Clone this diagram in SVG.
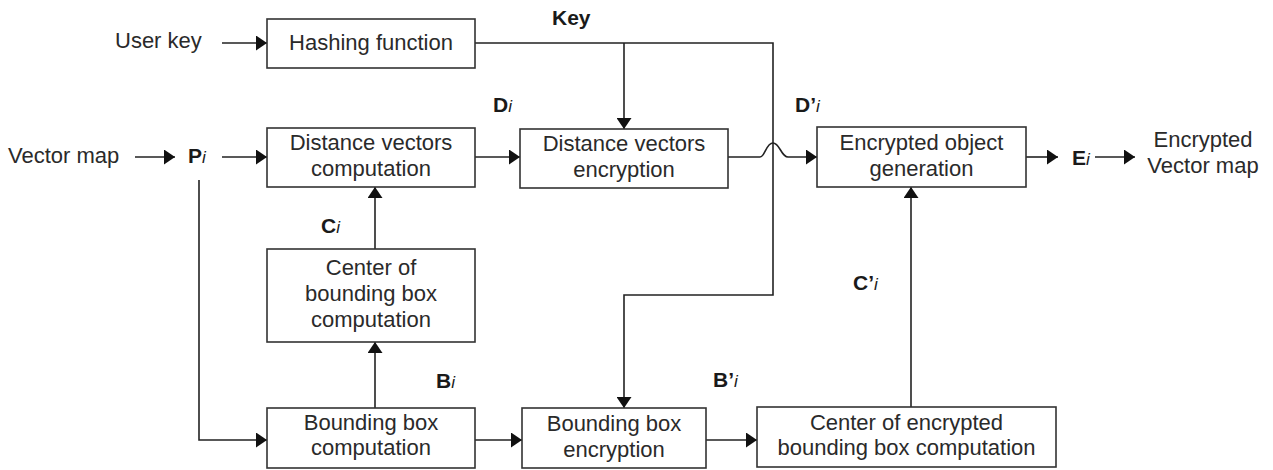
<svg xmlns="http://www.w3.org/2000/svg" width="1273" height="470" viewBox="0 0 1273 470">
<style>
.box{fill:#fff;stroke:#333;stroke-width:1.6}
.t{font-family:"Liberation Sans",Arial,sans-serif;font-size:22px;fill:#2a2a2a;text-anchor:middle}
.tl{font-family:"Liberation Sans",Arial,sans-serif;font-size:22px;fill:#2a2a2a}
.lb{font-family:"Liberation Sans",Arial,sans-serif;font-size:21px;font-weight:bold;fill:#1a1a1a}
.sub{font-style:italic;font-weight:normal;font-size:17px}
.c{fill:none;stroke:#222;stroke-width:1.6}
</style>
<defs>
<marker id="ah" markerUnits="userSpaceOnUse" markerWidth="12" markerHeight="15" refX="11" refY="7.5" orient="auto">
<path d="M0,0 L11,7.5 L0,15 Z" fill="#111"/>
</marker>
</defs>
<rect width="1273" height="470" fill="#fff"/>
<g id="connectors">
<path class="c" d="M222 43 H267" marker-end="url(#ah)"/>
<path class="c" d="M135 157 H175" marker-end="url(#ah)"/>
<path class="c" d="M222 157 H267" marker-end="url(#ah)"/>
<path class="c" d="M199 180 V440 H267" marker-end="url(#ah)"/>
<path class="c" d="M375 249 V187" marker-end="url(#ah)"/>
<path class="c" d="M375 408 V342" marker-end="url(#ah)"/>
<path class="c" d="M475 157 H520" marker-end="url(#ah)"/>
<path class="c" d="M475 43 H773 V295 H624 V408" marker-end="url(#ah)"/>
<path class="c" d="M624 43 V129" marker-end="url(#ah)"/>
<path class="c" d="M728 157 H760 C765 157 766 143 773 143 C780 143 781 157 788 157 H817" marker-end="url(#ah)"/>
<path class="c" d="M1026 157 H1058" marker-end="url(#ah)"/>
<path class="c" d="M1095 157 H1135" marker-end="url(#ah)"/>
<path class="c" d="M475 440 H522" marker-end="url(#ah)"/>
<path class="c" d="M706 440 H757" marker-end="url(#ah)"/>
<path class="c" d="M911 407 V187" marker-end="url(#ah)"/>
</g>
<g id="hashing">
<rect class="box" x="267" y="19" width="208" height="49"/>
<text class="t" x="371" y="50">Hashing function</text>
</g>
<g id="dvcomp">
<rect class="box" x="267" y="128" width="208" height="59"/>
<text class="t" x="371" y="150">Distance vectors</text>
<text class="t" x="371" y="176">computation</text>
</g>
<g id="dvenc">
<rect class="box" x="520" y="129" width="208" height="59"/>
<text class="t" x="624" y="151">Distance vectors</text>
<text class="t" x="624" y="177">encryption</text>
</g>
<g id="eog">
<rect class="box" x="817" y="127" width="209" height="60"/>
<text class="t" x="921.5" y="150">Encrypted object</text>
<text class="t" x="921.5" y="176">generation</text>
</g>
<g id="cbb">
<rect class="box" x="267" y="249" width="208" height="93"/>
<text class="t" x="371" y="275">Center of</text>
<text class="t" x="371" y="301">bounding box</text>
<text class="t" x="371" y="327">computation</text>
</g>
<g id="bbcomp">
<rect class="box" x="267" y="408" width="208" height="60"/>
<text class="t" x="371" y="430">Bounding box</text>
<text class="t" x="371" y="455">computation</text>
</g>
<g id="bbenc">
<rect class="box" x="522" y="408" width="184" height="60"/>
<text class="t" x="614" y="431">Bounding box</text>
<text class="t" x="614" y="457">encryption</text>
</g>
<g id="cebb">
<rect class="box" x="757" y="407" width="299" height="60"/>
<text class="t" x="906.5" y="430">Center of encrypted</text>
<text class="t" x="906.5" y="455">bounding box computation</text>
</g>
<g id="labels">
<text class="tl" x="115" y="48">User key</text>
<text class="tl" x="8" y="163">Vector map</text>
<text class="t" x="1203" y="147">Encrypted</text>
<text class="t" x="1203" y="173">Vector map</text>
<text class="lb" x="552" y="25">Key</text>
<text class="lb" x="188" y="163">P<tspan class="sub">i</tspan></text>
<text class="lb" x="493" y="112">D<tspan class="sub">i</tspan></text>
<text class="lb" x="795" y="112">D’<tspan class="sub">i</tspan></text>
<text class="lb" x="321" y="233">C<tspan class="sub">i</tspan></text>
<text class="lb" x="436" y="388">B<tspan class="sub">i</tspan></text>
<text class="lb" x="713" y="387">B’<tspan class="sub">i</tspan></text>
<text class="lb" x="853" y="290">C’<tspan class="sub">i</tspan></text>
<text class="lb" x="1072" y="165">E<tspan class="sub">i</tspan></text>
</g>
</svg>
